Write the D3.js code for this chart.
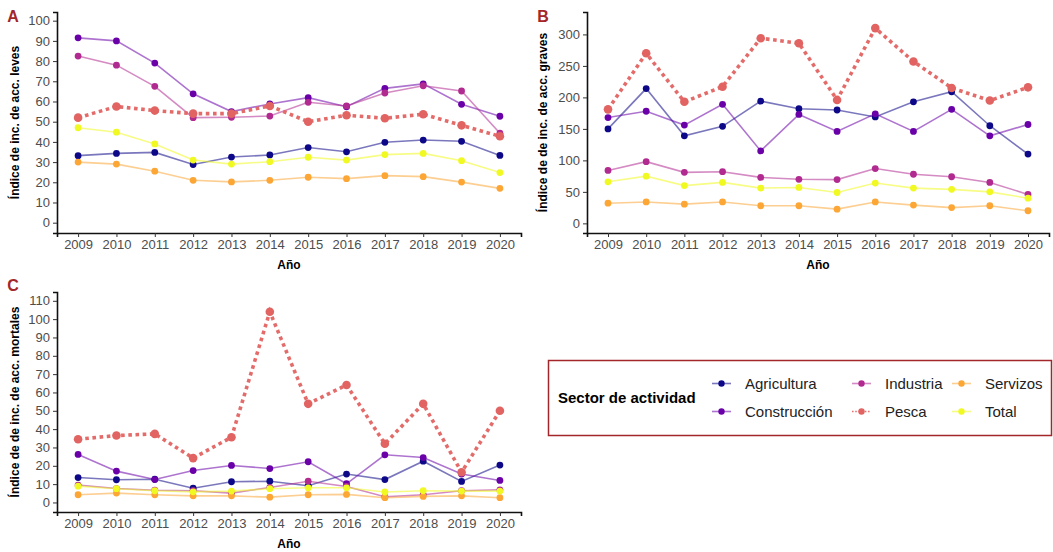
<!DOCTYPE html>
<html>
<head>
<meta charset="utf-8">
<script src="https://cdn.jsdelivr.net/npm/d3@7"></script>
<style>
  body { margin: 0; background: #fff; }
  svg { font-family: "Liberation Sans", Arial, sans-serif; }
  .tick text { fill: #4d4d4d; font-size: 13px; }
</style>
</head>
<body>
<div id="chart"></div>
<script>
const years = [2009, 2010, 2011, 2012, 2013, 2014, 2015, 2016, 2017, 2018, 2019, 2020];
const sectors = ["Agricultura", "Construcción", "Industria", "Pesca", "Servizos", "Total"];
const sectorColors = ["#0d0887", "#6a00a8", "#b12a90", "#e16462", "#fca636", "#f0f921"];

// A: leves
const levesAgricultura = [33.2, 34.3, 34.8, 28.8, 32.5, 33.5, 37.2, 35.1, 39.8, 40.9, 40.3, 33.3];
const levesConstruccion = [91.5, 90, 79, 63.8, 55, 58.8, 61.9, 57.4, 66.5, 68.7, 58.6, 52.7];
const levesIndustria = [82.5, 78, 67.5, 52, 52.2, 52.8, 59.6, 57.8, 64.2, 67.8, 65.2, 44.3];
const levesPesca = [52, 57.5, 55.5, 54, 54, 57.8, 50, 53.2, 51.7, 53.7, 48.2, 42.8];
const levesServizos = [30, 29, 25.5, 21, 20.2, 21, 22.5, 21.8, 23.3, 22.8, 20.1, 17];
const levesTotal = [47, 44.8, 39, 31, 29, 30.2, 32.4, 31, 33.7, 34.3, 30.7, 24.8];

// B: graves
const gravesAgricultura = [150, 214, 139, 154, 194, 182, 180, 169, 193, 209, 155, 110];
const gravesConstruccion = [168, 178, 156, 189, 115, 173, 146, 174, 146, 181, 139, 157];
const gravesIndustria = [84, 98, 81, 82, 73, 70, 69.5, 87, 78, 74, 65, 46];
const gravesPesca = [181, 270, 193, 217, 294, 286, 196, 310, 257, 215, 195, 216];
const gravesServizos = [32, 34, 30.5, 34, 28, 28, 22.6, 34, 29, 25, 28, 20];
const gravesTotal = [66, 75, 60, 65, 56, 57, 49, 64, 56, 54, 50, 40];

// C: mortales
const mortalesAgricultura = [13.6, 12.4, 12.7, 7.8, 11.3, 11.6, 9.1, 15.5, 12.5, 22.5, 11.5, 20.4];
const mortalesConstruccion = [26.2, 17.1, 12.5, 17.4, 20.2, 18.5, 22.2, 10.2, 26, 24.5, 15.5, 12];
const mortalesIndustria = [9.5, 7.6, 6.7, 6.4, 5.1, 8.2, 11.6, 8.7, 3.1, 4.2, 6.4, 6.9];
const mortalesPesca = [34.5, 36.5, 37.4, 24.2, 35.6, 104, 53.8, 64.1, 32, 53.8, 16.5, 50];
const mortalesServizos = [4.2, 5.1, 4.2, 3.6, 3.6, 2.9, 4.2, 4.4, 2.6, 3.3, 3.6, 2.6];
const mortalesTotal = [8.9, 7.5, 6.4, 5.8, 6.2, 7.5, 8, 8, 5.7, 6.4, 6.2, 6.2];

const ticksA = d3.range(0, 101, 10);
const ticksB = d3.range(0, 301, 50);
const ticksC = d3.range(0, 111, 10);

const svg = d3.select("#chart").append("svg")
  .attr("width", 1053)
  .attr("height", 552);

const color = d3.scaleOrdinal().domain(sectors).range(sectorColors);

function drawPanel(opts) {
  const { letter, left, right, top, bottom, yDomain, ticks, yTitle, series, letterX, letterY, titleX } = opts;
  const g = svg.append("g");

  const x = d3.scaleLinear().domain([2008.45, 2020.55]).range([left, right]);
  const y = d3.scaleLinear().domain(yDomain).range([bottom, top]);

  const xAxis = g.append("g")
    .attr("transform", `translate(0, ${bottom})`)
    .call(d3.axisBottom(x).tickValues(years).tickFormat(d3.format("d")).tickSize(4).tickPadding(3));
  const yAxis = g.append("g")
    .attr("transform", `translate(${left}, 0)`)
    .call(d3.axisLeft(y).tickValues(ticks).tickSize(4).tickPadding(3));
  [xAxis, yAxis].forEach(a => {
    a.select(".domain").attr("stroke", "#111").attr("stroke-width", 1.6);
    a.selectAll(".tick line").attr("stroke", "#333");
  });

  g.append("text")
    .attr("x", (left + right) / 2)
    .attr("y", bottom + 36)
    .attr("text-anchor", "middle")
    .style("font-size", "12px")
    .style("font-weight", "bold")
    .text("Año");

  g.append("text")
    .attr("transform", `translate(${titleX}, ${(top + bottom) / 2}) rotate(-90)`)
    .attr("text-anchor", "middle")
    .style("font-size", "12px")
    .style("font-weight", "bold")
    .text(yTitle);

  g.append("text")
    .attr("x", letterX)
    .attr("y", letterY)
    .attr("text-anchor", "middle")
    .style("font-size", "16px")
    .style("font-weight", "bold")
    .attr("fill", "#a3262a")
    .text(letter);

  const line = d3.line().x((d, i) => x(years[i])).y(d => y(d));

  sectors.forEach((s, k) => {
    const vals = series[k];
    const isPesca = s === "Pesca";
    g.append("path")
      .datum(vals)
      .attr("d", line)
      .attr("fill", "none")
      .attr("stroke", color(s))
      .attr("stroke-width", isPesca ? 3.6 : 1.6)
      .attr("stroke-opacity", isPesca ? 0.95 : 0.55)
      .attr("stroke-dasharray", isPesca ? "3.6,3.6" : null);
    g.selectAll(null)
      .data(vals)
      .enter()
      .append("circle")
      .attr("cx", (d, i) => x(years[i]))
      .attr("cy", d => y(d))
      .attr("r", isPesca ? 4.3 : 3.4)
      .attr("fill", color(s));
  });
}

drawPanel({
  letter: "A", left: 57, right: 521, top: 12, bottom: 233,
  yDomain: [-5.1, 104.3], ticks: ticksA,
  yTitle: "Índice de inc. de acc. leves", titleX: 19, letterX: 13, letterY: 22,
  series: [levesAgricultura, levesConstruccion, levesIndustria, levesPesca, levesServizos, levesTotal]
});

drawPanel({
  letter: "B", left: 587, right: 1049, top: 12, bottom: 233,
  yDomain: [-15.3, 335.6], ticks: ticksB,
  yTitle: "Índice de de inc. de acc. graves", titleX: 547, letterX: 543, letterY: 22,
  series: [gravesAgricultura, gravesConstruccion, gravesIndustria, gravesPesca, gravesServizos, gravesTotal]
});

drawPanel({
  letter: "C", left: 57, right: 521, top: 292, bottom: 512,
  yDomain: [-5.2, 114.8], ticks: ticksC,
  yTitle: "Índice de de inc. de acc. mortales", titleX: 19, letterX: 13, letterY: 291,
  series: [mortalesAgricultura, mortalesConstruccion, mortalesIndustria, mortalesPesca, mortalesServizos, mortalesTotal]
});

// legend
const legend = svg.append("g");
legend.append("rect")
  .attr("x", 548.5).attr("y", 360.5)
  .attr("width", 503).attr("height", 75)
  .attr("fill", "#fff")
  .attr("stroke", "#a3262a")
  .attr("stroke-width", 1.5);
legend.append("text")
  .attr("x", 558).attr("y", 403)
  .style("font-size", "15px")
  .style("font-weight", "bold")
  .text("Sector de actividad");

const legendCols = [712, 852, 952];
const legendRows = [383.5, 411.5];
sectors.forEach((s, k) => {
  const cx = legendCols[Math.floor(k / 2)];
  const cy = legendRows[k % 2];
  const isPesca = s === "Pesca";
  legend.append("line")
    .attr("x1", cx).attr("x2", cx + 19)
    .attr("y1", cy).attr("y2", cy)
    .attr("stroke", color(s))
    .attr("stroke-width", 1.6)
    .attr("stroke-opacity", isPesca ? 0.9 : 0.55)
    .attr("stroke-dasharray", isPesca ? "1.6,1.6" : null);
  legend.append("circle")
    .attr("cx", cx + 9.5).attr("cy", cy)
    .attr("r", 3.2)
    .attr("fill", color(s));
  legend.append("text")
    .attr("x", cx + 33).attr("y", cy + 5)
    .style("font-size", "15px")
    .attr("fill", "#222")
    .text(s);
});
</script>
</body>
</html>
